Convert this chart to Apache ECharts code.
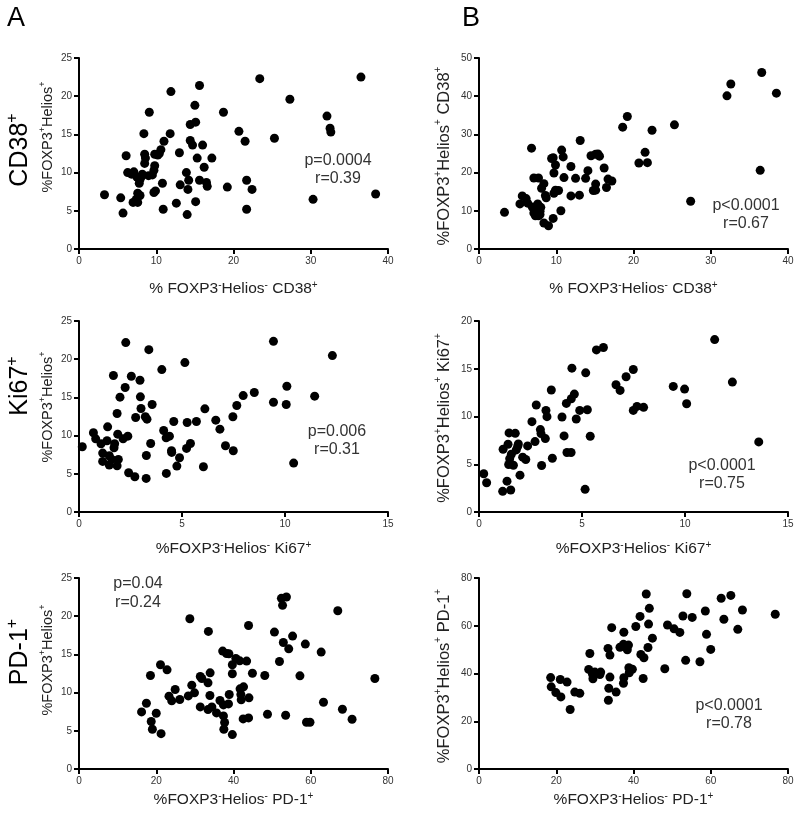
<!DOCTYPE html>
<html><head><meta charset="utf-8">
<script src="https://cdn.jsdelivr.net/npm/echarts@6/dist/echarts.min.js"></script>
<style>html,body{margin:0;padding:0;background:#fff}#c{width:800px;height:817px}</style>
</head><body><div id="c"></div><script>
// ---- data ----
const a1Points = [[3.3,7.1],[5.4,6.7],[5.7,4.7],[6.1,12.2],[6.3,10.0],[6.8,9.8],[7.1,10.1],[7.0,6.1],[7.4,6.5],[7.6,6.1],[7.6,7.3],[7.9,7.0],[7.8,8.6],[7.5,9.4],[8.1,9.5],[8.2,9.8],[7.9,9.1],[8.4,15.1],[8.5,12.4],[8.6,11.9],[8.5,11.2],[9.1,17.9],[9.0,9.6],[9.5,9.7],[9.7,10.3],[9.8,10.9],[9.7,7.4],[9.9,7.6],[9.8,12.4],[10.2,12.3],[10.4,12.5],[10.6,13.0],[11.0,14.1],[10.8,8.6],[10.9,5.2],[11.9,20.6],[11.8,15.1],[13.0,12.6],[13.1,8.4],[12.6,6.0],[13.9,10.0],[14.0,4.5],[14.1,7.8],[14.2,9.0],[14.4,16.3],[15.1,16.6],[14.4,14.2],[14.7,13.6],[15.0,18.8],[15.6,21.4],[15.3,11.9],[15.1,6.2],[15.6,9.0],[16.0,13.6],[16.2,10.7],[16.5,8.7],[16.6,8.2],[17.2,11.9],[18.7,17.9],[19.2,8.1],[20.7,15.4],[21.5,14.1],[21.7,9.0],[21.7,5.2],[22.4,7.8],[23.4,22.3],[25.3,14.5],[27.3,19.6],[30.3,6.5],[32.1,17.4],[32.5,15.8],[32.6,15.3],[36.5,22.5],[38.4,7.2]];
const b1Points = [[3.3,9.6],[5.3,11.8],[5.6,13.9],[6.1,13.2],[6.3,12.0],[6.8,26.4],[6.9,11.0],[7.1,18.6],[7.3,8.7],[7.4,10.3],[7.6,11.8],[7.7,18.6],[7.7,8.7],[7.9,9.9],[8.0,10.9],[8.1,15.9],[8.4,17.1],[8.4,6.8],[8.6,14.0],[8.7,13.4],[9.0,6.1],[9.4,23.7],[9.6,23.9],[9.7,19.9],[9.9,22.0],[9.6,8.0],[9.7,14.6],[9.9,15.4],[10.3,15.3],[10.7,25.9],[10.9,24.1],[11.0,18.7],[10.6,10.0],[11.9,21.6],[11.9,13.9],[12.5,18.5],[13.1,28.4],[13.0,14.1],[13.8,18.5],[14.1,20.5],[14.5,24.4],[15.1,24.8],[15.4,24.9],[15.6,24.3],[15.1,17.0],[14.8,15.3],[15.1,15.4],[16.2,21.2],[16.5,16.1],[16.7,18.3],[17.2,17.8],[18.6,31.9],[19.2,34.7],[20.7,22.5],[21.5,25.3],[21.8,22.6],[22.4,31.1],[25.3,32.5],[27.4,12.5],[32.1,40.1],[32.6,43.2],[36.6,46.2],[36.4,20.6],[38.5,40.8],[7.1,9.4],[7.9,9.0]];
const a2Points = [[0.16,8.54],[0.7,10.37],[0.81,9.58],[1.07,8.93],[1.15,7.71],[1.15,6.62],[1.39,11.15],[1.36,9.32],[1.47,7.36],[1.47,6.14],[1.59,6.88],[1.67,17.86],[1.70,8.41],[1.73,8.93],[1.85,12.89],[1.88,10.19],[1.85,6.05],[1.91,6.88],[1.99,15.03],[2.14,9.58],[2.24,16.29],[2.27,22.17],[2.37,9.93],[2.41,5.14],[2.54,17.77],[2.71,4.62],[2.75,12.37],[2.96,17.25],[2.98,15.07],[3.01,13.54],[3.22,12.46],[3.30,12.15],[3.26,4.40],[3.27,7.40],[3.39,21.25],[3.48,8.97],[3.55,14.07],[4.02,18.64],[4.11,10.67],[4.23,9.71],[4.39,9.93],[4.24,5.05],[4.49,8.01],[4.50,7.80],[4.60,11.85],[4.75,6.01],[4.88,7.10],[5.14,19.56],[5.22,8.32],[5.25,11.72],[5.41,8.97],[5.70,11.85],[6.04,5.92],[6.11,13.50],[6.64,12.02],[6.84,10.84],[7.11,8.67],[7.47,12.46],[7.49,8.01],[7.66,13.94],[7.97,15.24],[8.51,15.64],[9.44,22.34],[9.44,14.37],[10.06,14.07],[10.09,16.46],[10.42,6.40],[11.44,15.16],[12.30,20.47]];
const b2Points = [[0.23,4.0],[0.37,3.06],[1.17,6.57],[1.15,2.16],[1.36,3.23],[1.41,7.1],[1.46,8.28],[1.49,5.57],[1.44,4.97],[1.54,2.30],[1.57,6.05],[1.67,4.90],[1.76,8.24],[1.81,6.50],[1.88,6.89],[1.91,7.13],[1.99,3.86],[2.12,5.74],[2.27,5.50],[2.36,6.92],[2.57,9.46],[2.72,7.37],[2.78,11.2],[2.98,8.63],[3.01,8.21],[3.04,4.87],[3.22,7.69],[3.25,10.64],[3.30,9.98],[3.51,12.77],[3.56,5.63],[4.03,9.95],[4.13,7.97],[4.24,11.37],[4.27,6.23],[4.47,6.23],[4.48,11.86],[4.51,15.06],[4.63,12.35],[4.72,9.74],[4.89,10.64],[5.18,14.57],[5.15,2.37],[5.26,10.71],[5.40,7.93],[5.70,16.97],[6.04,17.22],[6.65,13.32],[6.85,12.73],[7.14,14.16],[7.49,14.92],[7.49,10.64],[7.67,11.06],[7.99,10.96],[9.43,13.15],[9.98,12.87],[10.08,11.34],[11.44,18.05],[12.30,13.60],[13.58,7.34]];
const a3Points = [[16.2,7.47],[17.45,8.61],[18.5,12.24],[18.7,6.21],[19.0,5.20],[20.0,7.30],[21.1,13.64],[21.25,4.63],[22.8,12.98],[23.3,9.53],[24.0,8.92],[24.9,10.40],[26.1,9.09],[28.7,19.67],[28.3,9.57],[29.2,10.97],[29.9,9.97],[31.4,12.11],[31.8,11.84],[31.4,8.13],[33.4,11.28],[33.5,18.01],[33.95,12.59],[33.9,9.62],[33.4,7.78],[34.4,8.13],[35.6,7.34],[36.5,8.96],[37.4,8.39],[37.2,15.43],[38.2,15.12],[38.8,15.08],[37.4,6.95],[37.7,6.08],[37.5,5.20],[38.7,8.52],[38.9,9.75],[39.7,13.64],[39.7,12.46],[39.7,4.50],[40.6,14.47],[41.6,14.16],[41.7,10.49],[41.9,9.75],[42.0,9.05],[42.6,10.75],[42.5,6.56],[43.4,14.12],[43.9,18.79],[43.9,6.69],[44.0,9.31],[44.9,12.54],[48.1,12.24],[48.8,7.17],[50.6,17.92],[51.9,14.07],[52.4,22.34],[52.7,21.42],[52.9,16.56],[53.7,22.51],[53.5,7.04],[54.3,15.73],[55.3,17.40],[57.2,12.19],[58.6,16.35],[58.9,6.12],[59.8,6.12],[62.7,15.30],[63.3,8.74],[67.0,20.72],[68.2,7.82],[70.7,6.51],[76.6,11.84]];
const b3Points = [[18.55,38.3],[18.7,34.4],[19.9,32.0],[21.05,37.5],[21.2,30.2],[22.8,36.4],[23.6,24.9],[24.8,32.2],[26.1,31.7],[28.7,48.4],[28.4,41.7],[29.4,39.7],[29.5,37.8],[30.0,40.6],[31.3,39.6],[31.5,40.6],[33.4,50.5],[33.9,47.7],[33.6,33.8],[33.5,28.8],[33.9,38.5],[34.35,59.2],[35.5,32.2],[36.5,51.0],[37.5,57.3],[37.4,52.2],[37.5,38.2],[37.4,35.9],[38.7,51.9],[38.4,49.9],[38.8,42.4],[38.9,40.3],[39.7,41.8],[40.6,59.7],[41.7,63.9],[41.9,48.0],[42.7,46.6],[42.5,37.9],[43.3,73.3],[43.75,50.9],[43.9,60.7],[44.1,67.3],[44.9,54.8],[48.1,42.0],[48.8,60.3],[50.5,58.7],[52.0,57.2],[52.8,64.1],[53.5,45.5],[53.8,73.4],[55.2,63.5],[57.2,44.9],[58.6,66.2],[58.9,56.4],[60.0,50.1],[62.7,71.5],[63.4,62.7],[65.2,72.7],[67.0,58.5],[68.2,66.6],[76.7,64.8]];

const xMaxes = [40, 40, 15, 15, 80, 80];
const xIntervals = [10, 10, 5, 5, 20, 20];
const yMaxes = [25, 50, 25, 20, 25, 80];
const yIntervals = [5, 10, 5, 5, 5, 20];
const statsP = ['p=0.0004', 'p<0.0001', 'p=0.006', 'p<0.0001', 'p=0.04', 'p<0.0001'];
const statsR = ['r=0.39', 'r=0.67', 'r=0.31', 'r=0.75', 'r=0.24', 'r=0.78'];
const rowLabels = ['CD38', 'Ki67', 'PD-1'];
const panelLetters = ['A', 'B'];
// titles: '{m|..}' = normal text, '{s|..}' = superscript
const xTitles = [
  '{m|% FOXP3}{s|-}{m|Helios}{s|-}{m| CD38}{s|+}',
  '{m|% FOXP3}{s|-}{m|Helios}{s|-}{m| CD38}{s|+}',
  '{m|%FOXP3}{s|-}{m|Helios}{s|-}{m| Ki67}{s|+}',
  '{m|%FOXP3}{s|-}{m|Helios}{s|-}{m| Ki67}{s|+}',
  '{m|%FOXP3}{s|-}{m|Helios}{s|-}{m| PD-1}{s|+}',
  '{m|%FOXP3}{s|-}{m|Helios}{s|-}{m| PD-1}{s|+}'
];
const yTitles = [
  '{m|%FOXP3}{s|+}{m|Helios}{s|+}',
  '{m|%FOXP3}{s|+}{m|Helios}{s|+}{m| CD38}{s|+}',
  '{m|%FOXP3}{s|+}{m|Helios}{s|+}',
  '{m|%FOXP3}{s|+}{m|Helios}{s|+}{m| Ki67}{s|+}',
  '{m|%FOXP3}{s|+}{m|Helios}{s|+}',
  '{m|%FOXP3}{s|+}{m|Helios}{s|+}{m| PD-1}{s|+}'
];
const allPoints = [a1Points, b1Points, a2Points, b2Points, a3Points, b3Points];

// ---- layout ----
const FONT = '"Liberation Sans", Arial, Helvetica, sans-serif';
const colLeft = [79, 479];
const rowTop = [58, 321, 578];
const GW = 309, GH = 191;
const xNameGaps = [31, 31, 28, 28, 22, 22];
const yTitlePos = [[47.5,137],[444,156],[47.5,407],[444,418],[47.5,660],[444,676]];
const yTitleSize = [14.5, 16.5, 14.5, 16.5, 14.5, 16.5];
const statPos = [[338,161,179],[746,206,224],[337,432,450],[722,466,484],[138,584,603],[729,706,724]];
const rowLabelPos = [[20,150],[20,386],[20,652]];

function richStyles(fs, lh, color) {
  const ss = Math.round(fs * 0.62);
  return {
    m: { fontSize: fs, lineHeight: lh, fontFamily: FONT, color: color },
    s: { fontSize: ss, lineHeight: ss, verticalAlign: 'top', fontFamily: FONT, color: color }
  };
}

const grids = [], xAxes = [], yAxes = [], series = [], graphics = [];
for (let i = 0; i < 6; i++) {
  const col = i % 2, row = Math.floor(i / 2);
  grids.push({ left: colLeft[col], top: rowTop[row], width: GW, height: GH, containLabel: false, outerBoundsMode: 'none' });
  const axisCommon = {
    gridIndex: i, type: 'value', min: 0,
    axisLine: { show: true, onZero: false, lineStyle: { color: '#000', width: 2 } },
    axisTick: { show: true, length: 5, inside: false, lineStyle: { color: '#000', width: 2 } },
    axisLabel: { show: true, fontSize: 10, color: '#333', fontFamily: FONT, margin: 7 },
    splitLine: { show: false }
  };
  xAxes.push(Object.assign({}, axisCommon, {
    max: xMaxes[i], interval: xIntervals[i],
    name: xTitles[i], nameLocation: 'middle', nameGap: xNameGaps[i],
    nameTextStyle: { fontSize: 15.5, lineHeight: 18, fontFamily: FONT, color: '#222', rich: richStyles(15.5, 18, '#222') }
  }));
  yAxes.push(Object.assign({}, axisCommon, { max: yMaxes[i], interval: yIntervals[i] }));
  series.push({
    type: 'scatter', xAxisIndex: i, yAxisIndex: i, data: allPoints[i],
    symbol: 'circle', symbolSize: 9, itemStyle: { color: '#000', opacity: 1 }, silent: true
  });
  // y-axis title (rotated)
  const ys = yTitleSize[i];
  graphics.push({
    type: 'text', x: yTitlePos[i][0], y: yTitlePos[i][1], rotation: Math.PI / 2,
    style: { text: yTitles[i], rich: richStyles(ys, Math.round(ys * 1.25), '#222'),
      fontSize: ys, fontFamily: FONT, fill: '#222',
      align: 'center', verticalAlign: 'middle', textAlign: 'center', textVerticalAlign: 'middle' }
  });
  // statistics
  [statsP[i], statsR[i]].forEach(function (t, k) {
    graphics.push({
      type: 'text', x: statPos[i][0], y: statPos[i][1 + k],
      style: { text: t, font: '16px ' + FONT, fill: '#333',
        align: 'center', verticalAlign: 'middle', textAlign: 'center', textVerticalAlign: 'middle' }
    });
  });
}
// row labels
rowLabels.forEach(function (t, r) {
  graphics.push({
    type: 'text', x: rowLabelPos[r][0], y: rowLabelPos[r][1], rotation: Math.PI / 2,
    style: { text: '{m|' + t + '}{s|+}', rich: richStyles(25, 30, '#000'), fontSize: 25, fontFamily: FONT, fill: '#000',
      align: 'center', verticalAlign: 'middle', textAlign: 'center', textVerticalAlign: 'middle' }
  });
});
// panel letters
panelLetters.forEach(function (t, c) {
  graphics.push({
    type: 'text', x: c === 0 ? 7 : 462, y: 5,
    style: { text: t, font: '27px ' + FONT, fill: '#000',
      align: 'left', verticalAlign: 'top', textAlign: 'left', textVerticalAlign: 'top' }
  });
});

const chart = echarts.init(document.getElementById('c'), null, { renderer: 'canvas' });
chart.setOption({
  animation: false,
  backgroundColor: '#fff',
  grid: grids, xAxis: xAxes, yAxis: yAxes, series: series,
  graphic: graphics
});
</script></body></html>
